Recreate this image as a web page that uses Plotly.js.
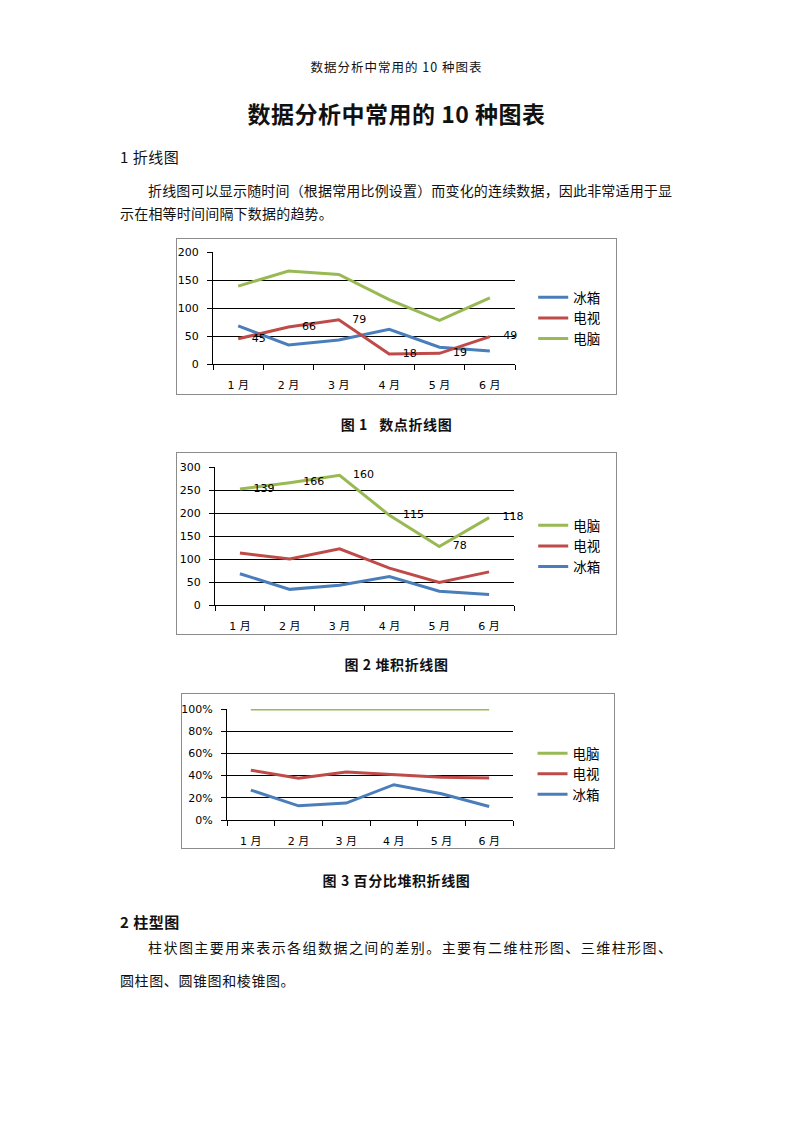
<!DOCTYPE html>
<html>
<head>
<meta charset="utf-8">
<script src="https://cdn.plot.ly/plotly-3.0.1.min.js"></script>
<style>
  html, body { margin:0; padding:0; background:#fff; }
  body { width:793px; height:1122px; position:relative; overflow:hidden;
         font-family:"Noto Sans CJK SC","DejaVu Sans",sans-serif; color:#111; }
  .t { position:absolute; white-space:nowrap; }
  .j { text-align:justify; text-align-last:justify; white-space:normal; }
  .cap { left:0; width:793px; text-align:center; font-size:14px; line-height:20px; font-weight:bold; letter-spacing:0.6px; }
  .box { position:absolute; border:1px solid #8c8c8c; box-sizing:border-box; background:#fff; }
  .box > div { position:absolute; left:-1px; top:-1px; }
</style>
</head>
<body>
<div class="t" style="left:0;width:793px;text-align:center;top:58px;font-size:12.5px;line-height:18px;letter-spacing:1px;">数据分析中常用的 10 种图表</div>
<div class="t" style="left:0;width:793px;text-align:center;top:99px;font-size:23px;line-height:28px;font-weight:bold;letter-spacing:0.5px;">数据分析中常用的 10 种图表</div>
<div class="t" style="left:120px;top:147px;font-size:15px;line-height:20px;letter-spacing:0.5px;">1 折线图</div>
<div class="t j" style="left:148px;width:524px;top:180px;font-size:14px;line-height:20px;">折线图可以显示随时间（根据常用比例设置）而变化的连续数据，因此非常适用于显</div>
<div class="t" style="left:120px;top:203px;font-size:14px;line-height:20px;letter-spacing:0.2px;">示在相等时间间隔下数据的趋势。</div>

<div class="box" style="left:176px;top:238px;width:441px;height:157px;"><div id="c1"></div></div>
<div class="t cap" style="top:414px;">图 1&nbsp;&nbsp;&nbsp;数点折线图</div>

<div class="box" style="left:176px;top:452px;width:441px;height:183px;"><div id="c2"></div></div>
<div class="t cap" style="top:654px;">图 2 堆积折线图</div>

<div class="box" style="left:181px;top:693px;width:434px;height:156px;"><div id="c3"></div></div>
<div class="t cap" style="top:870px;">图 3 百分比堆积折线图</div>

<div class="t" style="left:120px;top:912px;font-size:15px;line-height:20px;font-weight:bold;letter-spacing:0.5px;">2 柱型图</div>
<div class="t j" style="left:148px;width:524px;top:937px;font-size:14px;line-height:20px;">柱状图主要用来表示各组数据之间的差别。主要有二维柱形图、三维柱形图、</div>
<div class="t" style="left:120px;top:970px;font-size:14px;line-height:20px;letter-spacing:0.6px;">圆柱图、圆锥图和棱锥图。</div>

<script>
// ---- data ----
const months = ['1 月', '2 月', '3 月', '4 月', '5 月', '6 月'];
const fridge = [68, 34, 43, 62, 30, 23];     // 冰箱
const tv = [45, 66, 79, 18, 19, 49];         // 电视
const pc = [139, 166, 160, 115, 78, 118];    // 电脑
const seriesNames = ['冰箱', '电视', '电脑'];

const COL = { fridge: '#4a7ebb', tv: '#be4b48', pc: '#98b954' };
const FONT = '"DejaVu Sans","Noto Sans CJK SC",sans-serif';

function xaxis() {
  return {
    type: 'category', range: [-0.5, 5.5], tickson: 'boundaries',
    ticks: 'outside', ticklen: 5, tickcolor: '#000', tickwidth: 1,
    showline: true, linecolor: '#000', linewidth: 1, showgrid: false,
    tickfont: { family: FONT, size: 11, color: '#000' }, ticklabelstandoff: 11,
    fixedrange: true
  };
}
function yaxis(range, dtick, suffix) {
  return {
    range: range, dtick: dtick, ticksuffix: suffix || '',
    ticks: 'outside', ticklen: 5, tickcolor: '#000', tickwidth: 1,
    showline: true, linecolor: '#000', linewidth: 1,
    showgrid: true, gridcolor: '#000', gridwidth: 1, zeroline: false,
    tickfont: { family: FONT, size: 11, color: '#000' }, ticklabelstandoff: 6,
    fixedrange: true
  };
}
function legend(y, order) {
  return {
    xref: 'container', yref: 'container', x: 0.81, xanchor: 'left',
    y: y, yanchor: 'middle', traceorder: order,
    font: { family: FONT, size: 13.5, color: '#000' }, bgcolor: 'rgba(0,0,0,0)'
  };
}
function line(name, y, color, extra) {
  return Object.assign({
    x: months, y: y, name: name, type: 'scatter', mode: 'lines',
    line: { color: color, width: 3 }, hoverinfo: 'skip'
  }, extra || {});
}
const labelStyle = (vals) => ({
  mode: 'lines+markers+text', text: vals.map(String), textposition: 'middle right',
  marker: { size: 20, color: 'rgba(0,0,0,0)', line: { width: 0 } },
  textfont: { family: FONT, size: 11, color: '#000' }, cliponaxis: false
});
const cfg = { staticPlot: true, displayModeBar: false };

// Chart 1
Plotly.newPlot('c1', [
  line(seriesNames[0], fridge, COL.fridge),
  line(seriesNames[1], tv, COL.tv, labelStyle(tv)),
  line(seriesNames[2], pc, COL.pc)
], {
  width: 441, height: 157, margin: { l: 37, r: 102, t: 14, b: 31 },
  paper_bgcolor: 'rgba(0,0,0,0)', plot_bgcolor: 'rgba(0,0,0,0)',
  xaxis: xaxis(), yaxis: yaxis([0, 200], 50),
  legend: legend(0.49, 'normal'), showlegend: true
}, cfg);

// Chart 2 - stacked
Plotly.newPlot('c2', [
  line(seriesNames[0], fridge, COL.fridge, { stackgroup: 's', fill: 'none' }),
  line(seriesNames[1], tv, COL.tv, { stackgroup: 's', fill: 'none' }),
  line(seriesNames[2], pc, COL.pc, Object.assign({ stackgroup: 's', fill: 'none' }, labelStyle(pc)))
], {
  width: 441, height: 183, margin: { l: 39, r: 103, t: 15, b: 30 },
  paper_bgcolor: 'rgba(0,0,0,0)', plot_bgcolor: 'rgba(0,0,0,0)',
  xaxis: xaxis(), yaxis: yaxis([0, 300], 50),
  legend: legend(0.486, 'reversed'), showlegend: true
}, cfg);

// Chart 3 - percent stacked
Plotly.newPlot('c3', [
  line(seriesNames[0], fridge, COL.fridge, { stackgroup: 'p', groupnorm: 'percent', fill: 'none' }),
  line(seriesNames[1], tv, COL.tv, { stackgroup: 'p', fill: 'none' }),
  line(seriesNames[2], pc, COL.pc, { stackgroup: 'p', fill: 'none' })
], {
  width: 434, height: 156, margin: { l: 46, r: 102, t: 16, b: 29 },
  paper_bgcolor: 'rgba(0,0,0,0)', plot_bgcolor: 'rgba(0,0,0,0)',
  xaxis: xaxis(), yaxis: yaxis([0, 100], 20, '%'),
  legend: legend(0.481, 'reversed'), showlegend: true
}, cfg);
</script>
</body>
</html>
